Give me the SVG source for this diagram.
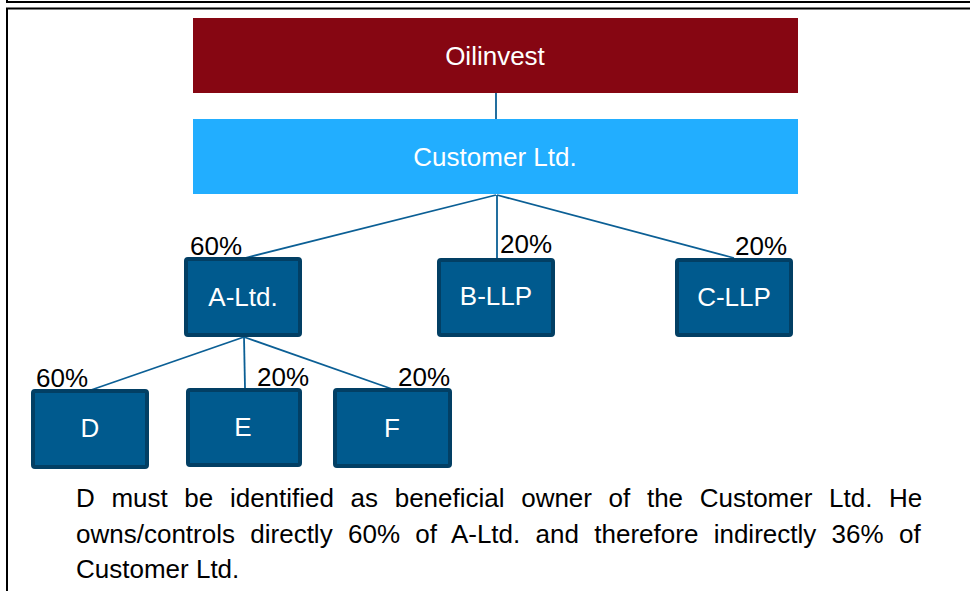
<svg xmlns="http://www.w3.org/2000/svg" width="970" height="591" viewBox="0 0 970 591">
  <style>
    .frame { fill: none; stroke: #000; stroke-width: 2; }
    .band-text { font-family: "Liberation Sans", Arial, sans-serif; font-size: 26px; fill: #fff; text-anchor: middle; }
    .box { fill: #005A8E; stroke: #023F64; stroke-width: 4; }
    .box-text { font-family: "Liberation Sans", Arial, sans-serif; font-size: 26px; fill: #fff; text-anchor: middle; }
    .pct { font-family: "Liberation Sans", Arial, sans-serif; font-size: 26px; fill: #000; }
    .link { stroke: #0B5F95; stroke-width: 1.8; fill: none; }
    .note { font-family: "Liberation Sans", Arial, sans-serif; font-size: 26px; fill: #000; }
  </style>

  <rect width="970" height="591" fill="#fff"/>

  <!-- page frames -->
  <path class="frame" d="M7 0 V2 H972"/>
  <path class="frame" d="M7 593 V8.5 H972"/>

  <!-- connectors -->
  <g id="connectors">
    <line class="link" x1="496" y1="93" x2="496" y2="119"/>
    <line class="link" x1="496" y1="195" x2="245" y2="258"/>
    <line class="link" x1="497" y1="195" x2="497" y2="258"/>
    <line class="link" x1="497" y1="195" x2="734" y2="258"/>
    <line class="link" x1="244" y1="337" x2="91" y2="390"/>
    <line class="link" x1="244" y1="337" x2="245" y2="388"/>
    <line class="link" x1="244" y1="337" x2="392" y2="389"/>
  </g>

  <g id="oilinvest">
    <rect x="193" y="18" width="605" height="75" fill="#860612"/>
    <text class="band-text" x="495" y="65">Oilinvest</text>
  </g>

  <g id="customer">
    <rect x="193" y="119" width="605" height="75" fill="#22AEFF"/>
    <text class="band-text" x="495" y="166">Customer Ltd.</text>
  </g>

  <g id="a-ltd">
    <rect class="box" x="186" y="259" width="114" height="76" rx="2"/>
    <text class="box-text" x="243" y="306">A-Ltd.</text>
    <text class="pct" x="190" y="255">60%</text>
  </g>

  <g id="b-llp">
    <rect class="box" x="439" y="260" width="114" height="75" rx="2"/>
    <text class="box-text" x="496" y="305">B-LLP</text>
    <text class="pct" x="500" y="253">20%</text>
  </g>

  <g id="c-llp">
    <rect class="box" x="677" y="260" width="114" height="75" rx="2"/>
    <text class="box-text" x="734" y="306">C-LLP</text>
    <text class="pct" x="735" y="255">20%</text>
  </g>

  <g id="d">
    <rect class="box" x="33" y="391" width="114" height="76" rx="2"/>
    <text class="box-text" x="90" y="437">D</text>
    <text class="pct" x="36" y="387">60%</text>
  </g>

  <g id="e">
    <rect class="box" x="188" y="390" width="112" height="75" rx="2"/>
    <text class="box-text" x="243" y="436">E</text>
    <text class="pct" x="257" y="386">20%</text>
  </g>

  <g id="f">
    <rect class="box" x="335" y="390" width="115" height="76" rx="2"/>
    <text class="box-text" x="392" y="437">F</text>
    <text class="pct" x="398" y="386">20%</text>
  </g>

  <!-- explanatory note, justified -->
  <g id="note">
    <text class="note" x="76" y="507" word-spacing="9.4">D must be identified as beneficial owner of the Customer Ltd. He</text>
    <text class="note" x="76" y="543" word-spacing="8.1">owns/controls directly 60% of A-Ltd. and therefore indirectly 36% of</text>
    <text class="note" x="76" y="578">Customer Ltd.</text>
  </g>
</svg>
